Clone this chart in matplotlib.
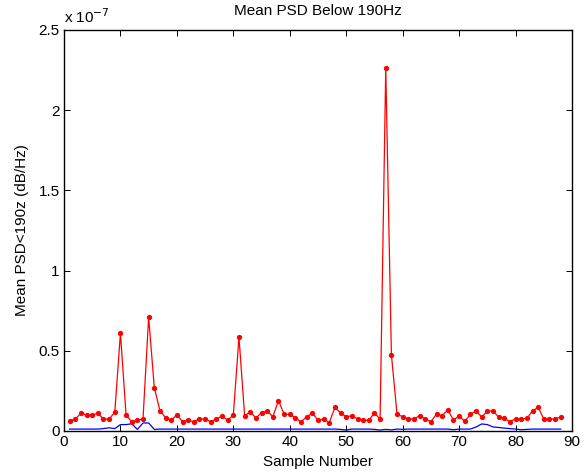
import numpy as np
import matplotlib.pyplot as plt

plt.rcParams['font.family'] = ['Liberation Sans', 'DejaVu Sans']

# mean PSD below 190 Hz, in units of 1e-7
samples = np.arange(1, 89)
psd_red = [
    0.062, 0.075, 0.11, 0.10, 0.10, 0.11, 0.075, 0.075, 0.117, 0.61,
    0.10, 0.058, 0.067, 0.075, 0.71, 0.27, 0.127, 0.083, 0.067, 0.10,
    0.058, 0.067, 0.058, 0.075, 0.075, 0.058, 0.075, 0.094, 0.067, 0.10,
    0.585, 0.095, 0.12, 0.081, 0.114, 0.125, 0.089, 0.19, 0.104, 0.104,
    0.081, 0.058, 0.089, 0.112, 0.067, 0.075, 0.052, 0.148, 0.112, 0.089,
    0.095, 0.075, 0.067, 0.067, 0.112, 0.075, 2.263, 0.476, 0.104, 0.089,
    0.075, 0.075, 0.095, 0.075, 0.058, 0.106, 0.095, 0.133, 0.067, 0.095,
    0.06, 0.104, 0.125, 0.087, 0.125, 0.125, 0.087, 0.079, 0.058, 0.075,
    0.075, 0.079, 0.125, 0.148, 0.075, 0.075, 0.075, 0.087,
]
psd_blue = [
    0.012, 0.012, 0.012, 0.012, 0.012, 0.012, 0.015, 0.02, 0.015, 0.04,
    0.04, 0.045, 0.01, 0.05, 0.05, 0.01, 0.012, 0.012, 0.012, 0.012,
    0.012, 0.012, 0.012, 0.012, 0.012, 0.012, 0.012, 0.012, 0.012, 0.012,
    0.012, 0.012, 0.012, 0.012, 0.012, 0.012, 0.012, 0.012, 0.012, 0.012,
    0.012, 0.012, 0.012, 0.012, 0.012, 0.012, 0.012, 0.012, 0.01, 0.006,
    0.012, 0.012, 0.012, 0.012, 0.01, 0.006, 0.01, 0.007, 0.012, 0.01,
    0.012, 0.012, 0.012, 0.012, 0.012, 0.012, 0.012, 0.012, 0.008, 0.012,
    0.012, 0.012, 0.025, 0.044, 0.04, 0.025, 0.022, 0.018, 0.015, 0.012,
    0.008, 0.01, 0.012, 0.012, 0.012, 0.012, 0.012, 0.012,
]

fig = plt.figure(figsize=(5.87, 4.73), dpi=100)
ax = fig.add_axes([0.109, 0.0888, 0.8655, 0.8478])

ax.plot(samples, psd_blue, color='#0000ff', linewidth=0.9)
ax.plot(samples, psd_red, color='#ff0000', linewidth=0.9,
        marker='o', markersize=3.8, markeredgewidth=0)

ax.set_xlim(0, 90)
ax.set_ylim(0, 2.5)
ax.set_xticks(np.arange(0, 91, 10))
ax.set_yticks([0, 0.5, 1, 1.5, 2, 2.5])
ax.set_yticklabels(['0', '0.5', '1', '1.5', '2', '2.5'])
ax.tick_params(direction='in', top=True, right=True, labelsize=11,
               length=4, width=0.7, pad=3)
for s in ax.spines.values():
    s.set_linewidth(1.0)

ax.set_title('Mean PSD Below 190Hz', fontsize=11, pad=11)
ax.set_xlabel('Sample Number', fontsize=11, labelpad=4)
ax.set_ylabel('Mean PSD<190z (dB/Hz)', fontsize=11, labelpad=7)
ax.text(0.0, 1.01, r'x 10$^{-7}$', transform=ax.transAxes, fontsize=11,
        ha='left', va='bottom')

fig.savefig('out.png', dpi=100)
